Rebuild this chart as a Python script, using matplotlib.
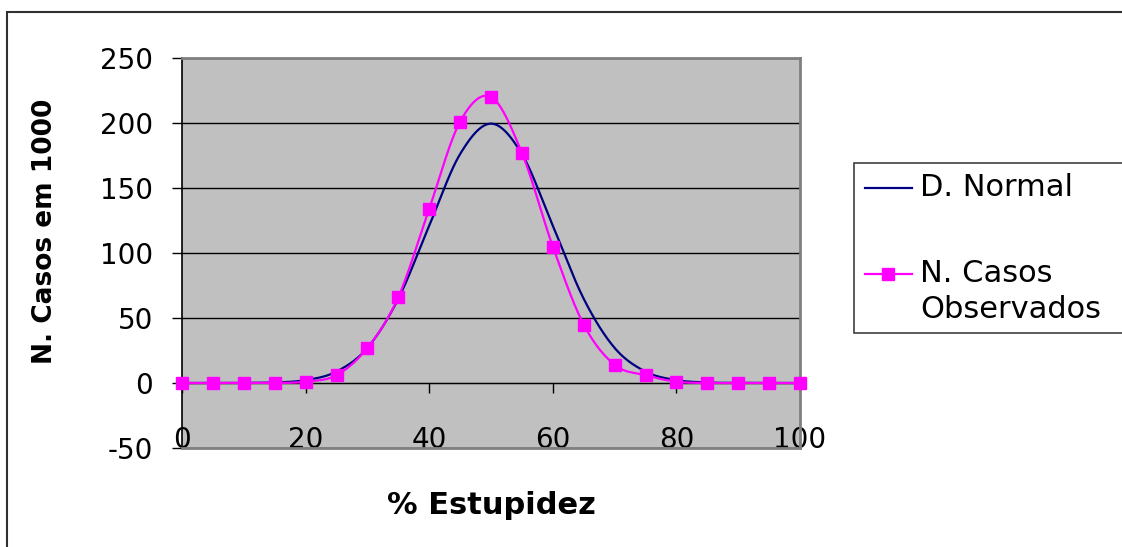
import numpy as np
import matplotlib
matplotlib.use("Agg")
import matplotlib.pyplot as plt
from matplotlib.patches import Rectangle
from matplotlib.lines import Line2D

plt.rcParams['font.family'] = ['DejaVu Sans']
plt.rcParams['axes.unicode_minus'] = False

# data
pct = [0, 5, 10, 15, 20, 25, 30, 35, 40, 45, 50, 55, 60, 65, 70, 75, 80, 85, 90, 95, 100]
normal = [0.0, 0.0, 0.1, 0.4, 2.2, 8.8, 27.0, 64.8, 121.0, 176.1, 199.5, 176.1,
          121.0, 64.8, 27.0, 8.8, 2.2, 0.4, 0.1, 0.0, 0.0]
observed = [0, 0, 0, 0, 1, 6, 27, 66, 134, 201, 220, 177, 105, 45, 14, 6, 1, 0, 0, 0, 0]
yticks = [-50, 0, 50, 100, 150, 200, 250]
xticks = [0, 20, 40, 60, 80, 100]


def excel_smooth(x, y, n=24):
    # Excel style smoothed line: bezier segments with catmull-rom control points
    x = np.asarray(x, float)
    y = np.asarray(y, float)
    pts = np.column_stack([x, y])
    out = []
    t = np.linspace(0, 1, n)[:, None]
    for i in range(len(pts) - 1):
        p0 = pts[max(i - 1, 0)]
        p1 = pts[i]
        p2 = pts[i + 1]
        p3 = pts[min(i + 2, len(pts) - 1)]
        c1 = p1 + (p2 - p0) / 6.0
        c2 = p2 - (p3 - p1) / 6.0
        seg = ((1 - t) ** 3) * p1 + 3 * ((1 - t) ** 2) * t * c1 + 3 * (1 - t) * t ** 2 * c2 + t ** 3 * p2
        out.append(seg if i == 0 else seg[1:])
    out = np.vstack(out)
    return out[:, 0], out[:, 1]


W, H = 1122, 547
fig = plt.figure(figsize=(W / 100, H / 100), dpi=100)
fx = lambda px: px / W
fy = lambda py: 1 - py / H

# outer chart border (runs off the right and bottom edges)
fig.add_artist(Rectangle((fx(7), fy(560)), fx(1130) - fx(7), fy(12) - fy(560),
                         transform=fig.transFigure, fill=False, edgecolor='#303030', lw=1.5))

ax = fig.add_axes([fx(182), fy(448), fx(800) - fx(182), fy(58) - fy(448)])
ax.set_facecolor('#C0C0C0')

sx, sy = excel_smooth(pct, normal)
ax.plot(sx, sy, color='#000080', lw=1.6, zorder=4, clip_on=False)
ox, oy = excel_smooth(pct, observed)
ax.plot(ox, oy, color='#FF00FF', lw=1.6, zorder=5, clip_on=False)
ax.plot(pct, observed, ls='none', marker='s', ms=9, color='#FF00FF', zorder=6, clip_on=False)

ax.set_xlim(0, 100)
ax.set_ylim(-50, 250)
ax.set_yticks(yticks)
ax.set_xticks(xticks)
ax.yaxis.grid(True, color='black', lw=1)
ax.set_axisbelow(True)

ax.spines['bottom'].set_position(('data', 0))
ax.spines['bottom'].set_color('black')
ax.spines['left'].set_color('black')
ax.spines['left'].set_linewidth(1.2)
for s in ['top', 'right']:
    ax.spines[s].set_color('#808080')
    ax.spines[s].set_linewidth(2)
ax.axhline(-50, color='#808080', lw=2, zorder=3, clip_on=False)

ax.tick_params(axis='y', direction='out', length=7, width=1, pad=14, labelsize=20)
ax.tick_params(axis='x', direction='out', length=7, width=1, pad=24, labelsize=20)

fig.text(fx(45), fy(231), 'N. Casos em 1000', rotation=90, ha='center', va='center',
         fontsize=19, fontweight='bold')
fig.text(fx(491), fy(506), '% Estupidez', ha='center', va='center',
         fontsize=22, fontweight='bold')

# legend box, cut off by the right edge like the original
fig.add_artist(Rectangle((fx(854), fy(333)), fx(1140) - fx(854), fy(163) - fy(333),
                         transform=fig.transFigure, facecolor='white', edgecolor='#404040', lw=1.2))
fig.add_artist(Line2D([fx(865), fx(912)], [fy(188), fy(188)], transform=fig.transFigure,
                      color='#000080', lw=1.6))
fig.add_artist(Line2D([fx(865), fx(912)], [fy(274), fy(274)], transform=fig.transFigure,
                      color='#FF00FF', lw=1.6))
fig.add_artist(Line2D([fx(888)], [fy(274)], transform=fig.transFigure, ls='none',
                      marker='s', ms=9, color='#FF00FF'))
fig.text(fx(920), fy(188), 'D. Normal', ha='left', va='center', fontsize=22)
fig.text(fx(920), fy(274), 'N. Casos', ha='left', va='center', fontsize=22)
fig.text(fx(920), fy(310), 'Observados', ha='left', va='center', fontsize=22)

fig.savefig('out.png', dpi=100, facecolor='white')
